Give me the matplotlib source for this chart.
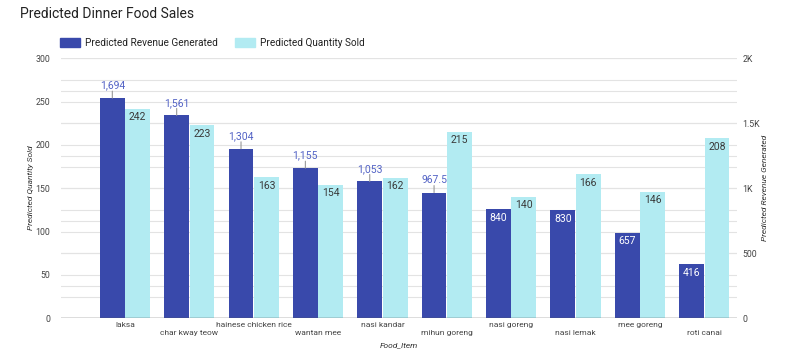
import matplotlib
matplotlib.use("Agg")
import matplotlib.pyplot as plt
from matplotlib.patches import Patch
from matplotlib.transforms import blended_transform_factory
import numpy as np

plt.rcParams["font.family"] = ["Roboto", "DejaVu Sans"]

# --- data ---
food_items = ["laksa", "char kway teow", "hainese chicken rice", "wantan mee", "nasi kandar",
              "mihun goreng", "nasi goreng", "nasi lemak", "mee goreng", "roti canai"]
revenue = [1694, 1561, 1304, 1155, 1053, 967.5, 840, 830, 657, 416]
quantity = [242, 223, 163, 154, 162, 215, 140, 166, 146, 208]
revenue_labels = ["1,694", "1,561", "1,304", "1,155", "1,053", "967.5", "840", "830", "657", "416"]
label_outside = [True, True, True, True, True, True, False, False, False, False]

qty_ticks = [0, 50, 100, 150, 200, 250, 300]
rev_ticks = [0, 500, 1000, 1500, 2000]
rev_tick_labels = ["0", "500", "1K", "1.5K", "2K"]

DARK = "#3949ab"
LIGHT = "#b2ebf2"
GRID = "#e3e3e3"
TXT = "#444444"

fig = plt.figure(figsize=(8, 3.55), dpi=100)
ax = fig.add_axes([61 / 800, 1 - 318.3 / 355, 676 / 800, 260 / 355])
ax2 = ax.twinx()

# right axis sits behind, left axis in front with transparent patch
ax.set_zorder(ax2.get_zorder() + 1)
ax.patch.set_visible(False)

x = np.arange(len(food_items))
w = 0.395

ax.set_xlim(-0.995, 9.51)
ax.set_ylim(0, 300)
ax2.set_ylim(0, 2000)

# gridlines (both axes) drawn on the back axes
for v in np.arange(25, 301, 25):
    ax2.plot([0, 1], [v, v], color=GRID, lw=0.8, zorder=0,
             transform=blended_transform_factory(ax2.transAxes, ax.transData))
for v in np.arange(250, 2001, 250):
    ax2.axhline(v, color=GRID, lw=0.8, zorder=0)

rev_bars = ax2.bar(x - w / 2, revenue, width=w - 0.01, color=DARK, zorder=2)
qty_bars = ax.bar(x + w / 2, quantity, width=w - 0.01, color=LIGHT, zorder=2)
ax.axhline(0, color="#555555", lw=1.0, zorder=3)

# revenue labels
for b, lab, out in zip(rev_bars, revenue_labels, label_outside):
    cx = b.get_x() + b.get_width() / 2
    top = b.get_height()
    if out:
        ax2.annotate("", xy=(cx, top), xytext=(0, 5), textcoords="offset points",
                     arrowprops=dict(arrowstyle="-", color="#999999", lw=0.8,
                                     shrinkA=0, shrinkB=0))
        ax2.annotate(lab, xy=(cx, top), xytext=(0, 5.5), textcoords="offset points",
                     ha="center", va="bottom", fontsize=7.5, color="#5262c5")
    else:
        ax2.annotate(lab, xy=(cx, top), xytext=(0, -2.5), textcoords="offset points",
                     ha="center", va="top", fontsize=7.5, color="white")

# quantity labels
for b, q in zip(qty_bars, quantity):
    ax.annotate(str(q), xy=(b.get_x() + b.get_width() / 2, q), xytext=(0, -2.5),
                textcoords="offset points", ha="center", va="top", fontsize=7.5, color="#3a3a3a")

# axes ticks
ax.set_yticks(qty_ticks)
ax.set_yticklabels([str(t) for t in qty_ticks], fontsize=6.3, color=TXT)
ax2.set_yticks(rev_ticks)
ax2.set_yticklabels(rev_tick_labels, fontsize=6.3, color=TXT)
ax.tick_params(axis="y", length=0, pad=8)
ax2.tick_params(axis="y", length=0, pad=4)

ax.set_xticks(x)
ax.set_xticklabels([("" if i % 2 == 0 else "\n") + n for i, n in enumerate(food_items)],
                   fontsize=6.0, color=TXT, linespacing=1.5)
ax.tick_params(axis="x", length=0, pad=2.5)

for a in (ax, ax2):
    for s in a.spines.values():
        s.set_visible(False)

# titles and axis labels
fig.text(20 / 800, 1 - 14 / 355, "Predicted Dinner Food Sales", fontsize=10, color="#222222",
         va="center", ha="left")
fig.text(31 / 800, 1 - 188 / 355, "Predicted Quantity Sold", rotation=90, fontsize=6,
         style="italic", color="#333333", ha="center", va="center")
fig.text(765 / 800, 1 - 188 / 355, "Predicted Revenue Generated", rotation=90, fontsize=6,
         style="italic", color="#333333", ha="center", va="center")
fig.text(399 / 800, 1 - 345 / 355, "Food_Item", fontsize=6, style="italic",
         color="#333333", ha="center", va="center")

handles = [Patch(color=DARK, label="Predicted Revenue Generated"),
           Patch(color=LIGHT, label="Predicted Quantity Sold")]
fig.legend(handles=handles, loc="center left", bbox_to_anchor=(55 / 800, 1 - 43 / 355),
           ncol=2, frameon=False, fontsize=7.2, handlelength=2.0, handleheight=1.0,
           handletextpad=0.5, columnspacing=1.7, borderpad=0, labelcolor="#222222")

fig.savefig("out.png", dpi=100)
